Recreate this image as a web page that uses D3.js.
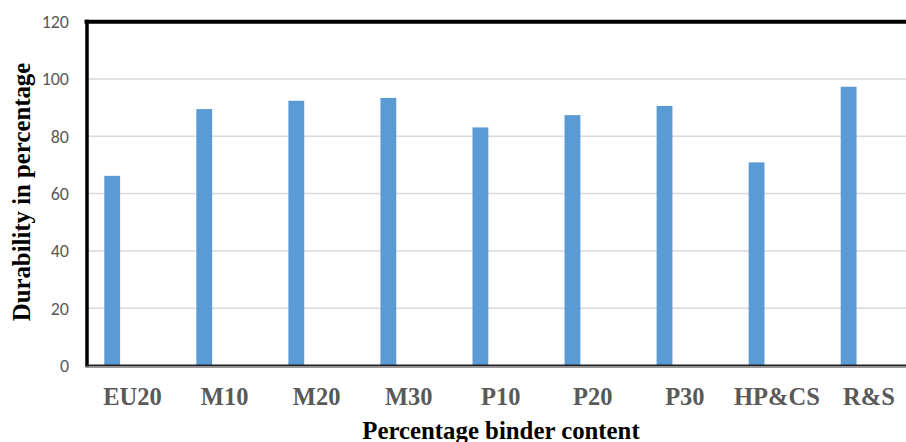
<!DOCTYPE html>
<html><head><meta charset="utf-8">
<script src="https://cdn.jsdelivr.net/npm/d3@7"></script>
<style>body{margin:0;background:#fff;overflow:hidden}</style>
</head><body>
<script>
const categories = ["EU20","M10","M20","M30","P10","P20","P30","HP&CS","R&S"];
const durability = [66.2, 89.5, 92.4, 93.4, 83.1, 87.4, 90.6, 70.9, 97.3];
const yTicks = [0,20,40,60,80,100,120];
const xTitle = "Percentage binder content";
const yTitle = "Durability in percentage";

(function(){
const W = 906, H = 442;
const svg = d3.select("body").append("svg").attr("width", W).attr("height", H);
const pL = 86.5, pR = 915, pT = 21.7, pB = 365.5;
const serif = "'Liberation Serif', 'Times New Roman', serif";

const x = d3.scaleBand().domain(categories).range([pL, pR]).paddingInner(0).paddingOuter(0);
const y = d3.scaleLinear().domain([0,120]).range([pB, pT]);

// gridlines
svg.append("g").selectAll("line").data(yTicks.filter(t => t > 0 && t < 120)).join("line")
  .attr("x1", pL).attr("x2", pR)
  .attr("y1", d => y(d)).attr("y2", d => y(d))
  .attr("stroke", "#d9d9d9").attr("stroke-width", 1.5);

// bars
const barW = x.bandwidth() * 0.172;
const barOff = x.bandwidth() * 0.193;
svg.append("g").selectAll("rect").data(durability).join("rect")
  .attr("x", (d,i) => x(categories[i]) + barOff)
  .attr("width", barW)
  .attr("y", d => y(d))
  .attr("height", d => y(0) - y(d))
  .attr("fill", "#5b9bd5");

// frame
svg.append("line").attr("x1", pL-2).attr("x2", pR).attr("y1", pT).attr("y2", pT)
  .attr("stroke", "#000").attr("stroke-width", 4);
svg.append("line").attr("x1", pL+0.5).attr("x2", pL+0.5).attr("y1", pT-2).attr("y2", pB+1)
  .attr("stroke", "#000").attr("stroke-width", 3.5);
svg.append("line").attr("x1", pL-1).attr("x2", pR).attr("y1", pB).attr("y2", pB)
  .attr("stroke", "#222").attr("stroke-width", 2);
svg.append("line").attr("x1", pL-1).attr("x2", pR).attr("y1", pB+2).attr("y2", pB+2)
  .attr("stroke", "#999").attr("stroke-width", 1);

// y tick labels
svg.append("g").selectAll("text").data(yTicks).join("text")
  .attr("x", 69).attr("y", d => y(d)).attr("dy", "0.35em")
  .attr("text-anchor", "end")
  .attr("font-family", "Carlito, 'Liberation Sans', Arial, sans-serif")
  .attr("font-size", 18).attr("fill", "#595959")
  .text(d => d);

// x labels
svg.append("g").selectAll("text").data(categories).join("text")
  .attr("x", d => x(d) + x.bandwidth()/2).attr("y", 405)
  .attr("text-anchor", "middle")
  .attr("font-family", serif)
  .attr("font-weight", "bold").attr("font-size", 24.5).attr("fill", "#595959")
  .text(d => d);

// axis titles
svg.append("text").attr("x", 501).attr("y", 439).attr("text-anchor", "middle")
  .attr("font-family", serif)
  .attr("font-weight", "bold").attr("font-size", 24.8).attr("fill", "#000")
  .text(xTitle);
svg.append("text").attr("transform", "translate(30,192) rotate(-90)").attr("text-anchor", "middle")
  .attr("font-family", serif)
  .attr("font-weight", "bold").attr("font-size", 24.8).attr("fill", "#000")
  .text(yTitle);
})();
</script>
</body></html>
